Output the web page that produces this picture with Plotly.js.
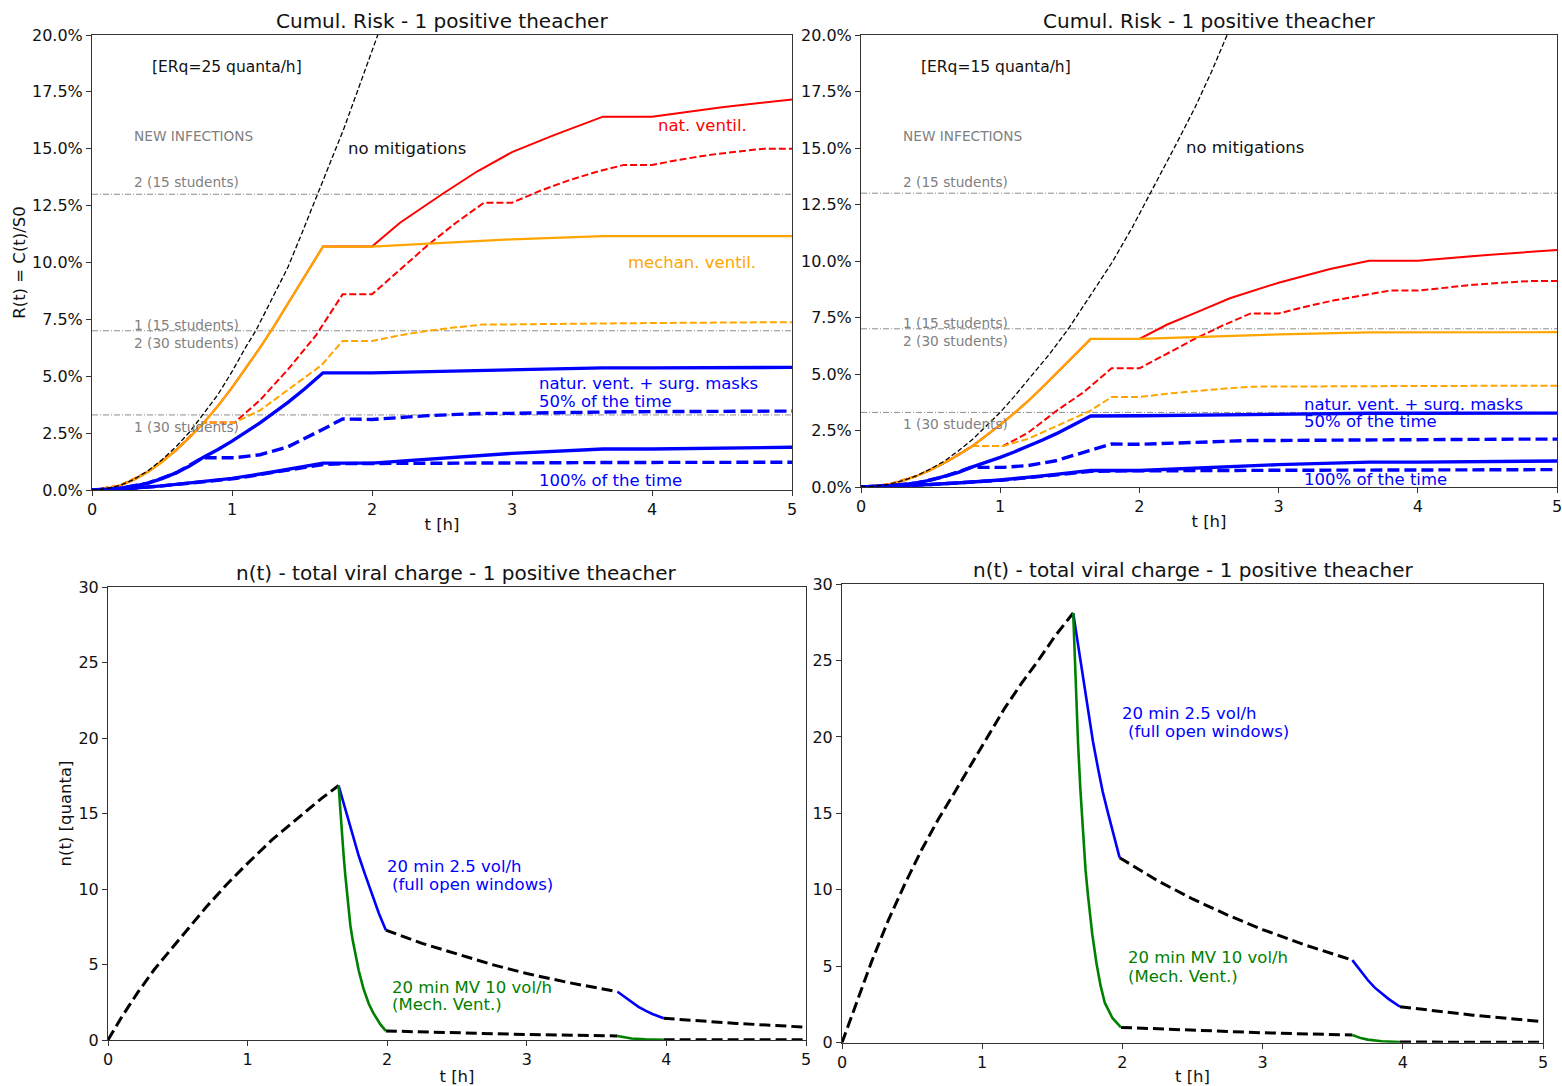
<!DOCTYPE html>
<html><head><meta charset="utf-8">
<script src="https://cdn.plot.ly/plotly-3.0.1.min.js"></script>
<style>html,body{margin:0;padding:0;background:#fff}#chart{width:1562px;height:1086px}</style>
</head><body><div id="chart"></div>
<script>
// ================= DATA =================
const hourTicks = [0, 1, 2, 3, 4, 5];
const riskTicks = [0, 2.5, 5, 7.5, 10, 12.5, 15, 17.5, 20];
const quantaTicks = [0, 5, 10, 15, 20, 25, 30];
const thresholdLevels = [13.0, 7.0, 3.3];   // NEW INFECTIONS levels (%)

// ---- top-left : ERq = 25 quanta/h, cumulative risk in % ----
const tl_noMit_t = [0, 0.1, 0.2, 0.3, 0.4, 0.5, 0.6, 0.7, 0.79, 0.9, 1.0, 1.1, 1.17, 1.3, 1.4, 1.5, 1.61, 1.7, 1.8, 1.9, 2.04, 2.1];
const tl_noMit_r = [0, 0.05, 0.2, 0.47, 0.85, 1.33, 1.9, 2.57, 3.3, 4.2, 5.2, 6.3, 7.0, 8.6, 9.8, 11.3, 13.0, 14.4, 15.9, 17.6, 20.0, 21.0];
const tl_mech_t = [0, 0.1, 0.2, 0.3, 0.4, 0.5, 0.6, 0.7, 0.8, 0.9, 1.0, 1.1, 1.2, 1.3, 1.4, 1.5, 1.65, 2.0, 2.5, 3.0, 3.65, 4.0, 5.0];
const tl_mech_r = [0, 0.05, 0.2, 0.45, 0.8, 1.23, 1.75, 2.33, 2.97, 3.7, 4.5, 5.35, 6.25, 7.2, 8.2, 9.2, 10.7, 10.7, 10.87, 11.02, 11.16, 11.16, 11.16];
const tl_nat_t = [0, 0.1, 0.2, 0.3, 0.4, 0.5, 0.6, 0.7, 0.8, 0.9, 1.0, 1.1, 1.2, 1.3, 1.4, 1.5, 1.65, 2.0, 2.2, 2.5, 2.75, 3.0, 3.3, 3.65, 4.0, 4.5, 5.0];
const tl_nat_r = [0, 0.05, 0.2, 0.45, 0.8, 1.23, 1.75, 2.33, 2.97, 3.7, 4.5, 5.35, 6.25, 7.2, 8.2, 9.2, 10.7, 10.7, 11.75, 13.0, 14.0, 14.85, 15.6, 16.41, 16.41, 16.82, 17.17];
const tl_natH_t = [0, 0.2, 0.4, 0.6, 0.8, 1.02, 1.2, 1.4, 1.6, 1.79, 2.0, 2.2, 2.4, 2.6, 2.8, 3.0, 3.2, 3.4, 3.6, 3.8, 4.0, 4.2, 4.4, 4.6, 4.8, 5.0];
const tl_natH_r = [0, 0.2, 0.8, 1.75, 2.97, 2.97, 3.95, 5.3, 6.8, 8.6, 8.6, 9.7, 10.77, 11.75, 12.63, 12.63, 13.15, 13.6, 13.98, 14.29, 14.29, 14.52, 14.72, 14.87, 15.0, 15.0];
const tl_mechH_t = [0, 0.2, 0.4, 0.6, 0.8, 1.02, 1.2, 1.4, 1.64, 1.79, 2.0, 2.2, 2.4, 2.6, 2.8, 3.0, 3.8, 4.0, 4.8, 5.0];
const tl_mechH_r = [0, 0.2, 0.8, 1.75, 2.97, 2.97, 3.5, 4.4, 5.49, 6.55, 6.55, 6.8, 7.0, 7.15, 7.28, 7.28, 7.34, 7.34, 7.37, 7.37];
const tl_mask50_t = [0, 0.1, 0.2, 0.3, 0.4, 0.5, 0.6, 0.7, 0.79, 0.9, 1.0, 1.1, 1.2, 1.3, 1.4, 1.52, 1.65, 2.0, 2.5, 3.0, 3.65, 4.0, 5.0];
const tl_mask50_r = [0, 0.02, 0.08, 0.17, 0.3, 0.5, 0.75, 1.07, 1.42, 1.78, 2.15, 2.53, 2.95, 3.4, 3.85, 4.45, 5.15, 5.15, 5.22, 5.28, 5.37, 5.37, 5.39];
const tl_mask50H_t = [0, 0.2, 0.4, 0.6, 0.79, 1.02, 1.2, 1.4, 1.64, 1.79, 2.0, 2.4, 2.8, 3.0, 3.8, 4.0, 4.8, 5.0];
const tl_mask50H_r = [0, 0.08, 0.3, 0.75, 1.42, 1.42, 1.55, 1.9, 2.64, 3.12, 3.1, 3.27, 3.37, 3.37, 3.44, 3.44, 3.47, 3.47];
const tl_mask100_t = [0, 0.25, 0.5, 0.75, 1.0, 1.3, 1.65, 2.0, 2.5, 3.0, 3.65, 4.0, 5.0];
const tl_mask100_r = [0, 0.06, 0.18, 0.33, 0.51, 0.8, 1.18, 1.18, 1.39, 1.61, 1.8, 1.8, 1.88];
const tl_mask100H_t = [0, 0.25, 0.5, 0.79, 1.02, 1.3, 1.65, 1.79, 2.0, 2.8, 3.0, 3.8, 4.0, 5.0];
const tl_mask100H_r = [0, 0.06, 0.18, 0.36, 0.5, 0.78, 1.12, 1.16, 1.16, 1.19, 1.19, 1.21, 1.21, 1.22];

// ---- top-right : ERq = 15 quanta/h ----
const tr_noMit_t = [0, 0.1, 0.2, 0.3, 0.4, 0.5, 0.6, 0.7, 0.8, 0.9, 1.0, 1.1, 1.2, 1.35, 1.49, 1.65, 1.8, 1.95, 2.08, 2.25, 2.4, 2.52, 2.63, 2.7];
const tr_noMit_r = [0, 0.03, 0.12, 0.28, 0.5, 0.8, 1.15, 1.6, 2.1, 2.68, 3.3, 4.0, 4.75, 5.85, 7.0, 8.5, 9.9, 11.5, 13.0, 15.0, 16.8, 18.4, 20.0, 21.0];
const tr_mech_t = [0, 0.1, 0.2, 0.3, 0.4, 0.5, 0.6, 0.7, 0.8, 0.9, 1.0, 1.1, 1.2, 1.3, 1.4, 1.5, 1.65, 2.0, 2.5, 3.0, 3.65, 4.0, 5.0];
const tr_mech_r = [0, 0.03, 0.12, 0.27, 0.49, 0.75, 1.07, 1.42, 1.81, 2.26, 2.75, 3.26, 3.8, 4.39, 5.0, 5.6, 6.55, 6.55, 6.66, 6.75, 6.84, 6.84, 6.85];
const tr_nat_t = [0, 0.1, 0.2, 0.3, 0.4, 0.5, 0.6, 0.7, 0.8, 0.9, 1.0, 1.1, 1.2, 1.3, 1.4, 1.5, 1.65, 2.0, 2.2, 2.41, 2.65, 3.0, 3.37, 3.65, 4.0, 4.5, 5.0];
const tr_nat_r = [0, 0.03, 0.12, 0.27, 0.49, 0.75, 1.07, 1.42, 1.81, 2.26, 2.75, 3.26, 3.8, 4.39, 5.0, 5.6, 6.55, 6.55, 7.19, 7.73, 8.35, 9.04, 9.65, 10.01, 10.01, 10.27, 10.49];
const tr_natH_t = [0, 0.2, 0.4, 0.6, 0.8, 1.02, 1.2, 1.4, 1.6, 1.8, 2.0, 2.2, 2.4, 2.6, 2.8, 3.0, 3.2, 3.4, 3.6, 3.8, 4.0, 4.2, 4.4, 4.6, 4.8, 5.0];
const tr_natH_r = [0, 0.12, 0.49, 1.07, 1.81, 1.81, 2.4, 3.35, 4.2, 5.25, 5.25, 5.91, 6.56, 7.15, 7.68, 7.68, 7.99, 8.26, 8.49, 8.69, 8.69, 8.83, 8.95, 9.04, 9.11, 9.11];
const tr_mechH_t = [0, 0.2, 0.4, 0.6, 0.8, 1.02, 1.2, 1.4, 1.64, 1.8, 2.0, 2.2, 2.4, 2.6, 2.8, 3.0, 3.8, 4.0, 4.8, 5.0];
const tr_mechH_r = [0, 0.12, 0.49, 1.07, 1.81, 1.81, 2.13, 2.68, 3.35, 3.98, 3.98, 4.13, 4.25, 4.35, 4.44, 4.44, 4.47, 4.47, 4.48, 4.48];
const tr_mask50_t = [0, 0.1, 0.2, 0.3, 0.4, 0.5, 0.6, 0.7, 0.79, 0.9, 1.0, 1.1, 1.2, 1.3, 1.4, 1.52, 1.65, 2.0, 2.5, 3.0, 3.65, 4.0, 5.0];
const tr_mask50_r = [0, 0.01, 0.05, 0.1, 0.18, 0.3, 0.46, 0.65, 0.87, 1.09, 1.31, 1.55, 1.8, 2.07, 2.35, 2.71, 3.14, 3.15, 3.19, 3.22, 3.26, 3.26, 3.27];
const tr_mask50H_t = [0, 0.2, 0.4, 0.6, 0.79, 1.02, 1.2, 1.4, 1.64, 1.8, 2.0, 2.4, 2.8, 3.0, 3.8, 4.0, 4.8, 5.0];
const tr_mask50H_r = [0, 0.05, 0.18, 0.46, 0.87, 0.87, 0.95, 1.16, 1.61, 1.9, 1.89, 1.99, 2.06, 2.06, 2.1, 2.1, 2.12, 2.12];
const tr_mask100_t = [0, 0.25, 0.5, 0.75, 1.0, 1.3, 1.65, 2.0, 2.5, 3.0, 3.65, 4.0, 5.0];
const tr_mask100_r = [0, 0.04, 0.11, 0.2, 0.31, 0.49, 0.73, 0.73, 0.86, 0.99, 1.1, 1.1, 1.15];
const tr_mask100H_t = [0, 0.25, 0.5, 0.79, 1.02, 1.3, 1.65, 1.79, 2.0, 2.8, 3.0, 3.8, 4.0, 5.0];
const tr_mask100H_r = [0, 0.04, 0.11, 0.22, 0.31, 0.47, 0.69, 0.71, 0.71, 0.74, 0.74, 0.75, 0.75, 0.77];

// ---- bottom-left : n(t) quanta ----
const bl_occ_t = [0, 0.1, 0.217, 0.33, 0.457, 0.58, 0.696, 0.85, 1.0, 1.174, 1.3, 1.413, 1.53, 1.652];
const bl_occ_n = [0, 1.55, 3.2, 4.65, 6.07, 7.45, 8.72, 10.3, 11.7, 13.25, 14.25, 15.1, 16.0, 16.85];
const bl_nvBreak1_t = [1.652, 1.69, 1.724, 1.76, 1.796, 1.84, 1.892, 1.94, 1.99];
const bl_nvBreak1_n = [16.85, 15.6, 14.4, 13.3, 12.2, 11.0, 9.6, 8.4, 7.28];
const bl_nvAfter1_t = [1.99, 2.25, 2.5, 2.75, 3.0, 3.3, 3.65];
const bl_nvAfter1_n = [7.28, 6.4, 5.7, 5.0, 4.4, 3.8, 3.2];
const bl_nvBreak2_t = [3.65, 3.7, 3.75, 3.8, 3.85, 3.9, 3.98];
const bl_nvBreak2_n = [3.2, 2.85, 2.5, 2.2, 1.95, 1.72, 1.44];
const bl_nvAfter2_t = [3.98, 4.5, 5.0];
const bl_nvAfter2_n = [1.44, 1.1, 0.85];
const bl_mvBreak1_t = [1.652, 1.665, 1.675, 1.688, 1.70, 1.718, 1.736, 1.753, 1.77, 1.796, 1.83, 1.868, 1.9, 1.92, 1.95, 1.99];
const bl_mvBreak1_n = [16.85, 15.0, 13.6, 12.2, 10.9, 9.2, 7.6, 6.6, 5.7, 4.6, 3.4, 2.4, 1.8, 1.5, 1.05, 0.6];
const bl_mvAfter1_t = [1.99, 2.5, 3.0, 3.65];
const bl_mvAfter1_n = [0.6, 0.46, 0.36, 0.27];
const bl_mvBreak2_t = [3.65, 3.7, 3.75, 3.85, 3.98];
const bl_mvBreak2_n = [0.27, 0.16, 0.1, 0.04, 0.02];
const bl_mvAfter2_t = [3.98, 5.0];
const bl_mvAfter2_n = [0.02, 0.02];

// ---- bottom-right : n(t) quanta ----
const br_occ_t = [0, 0.06, 0.116, 0.211, 0.33, 0.449, 0.567, 0.686, 0.805, 1.0, 1.162, 1.28, 1.4, 1.52, 1.649];
const br_occ_n = [0, 1.5, 2.8, 5.3, 8.0, 10.4, 12.6, 14.6, 16.4, 19.4, 21.9, 23.5, 25.0, 26.6, 28.1];
const br_nvBreak1_t = [1.649, 1.684, 1.72, 1.756, 1.79, 1.827, 1.86, 1.898, 1.94, 1.98];
const br_nvBreak1_n = [28.1, 26.0, 23.8, 21.6, 19.7, 17.9, 16.4, 15.0, 13.5, 12.1];
const br_nvAfter1_t = [1.98, 2.25, 2.5, 2.75, 3.0, 3.3, 3.64];
const br_nvAfter1_n = [12.1, 10.6, 9.4, 8.35, 7.4, 6.4, 5.4];
const br_nvBreak2_t = [3.64, 3.7, 3.75, 3.8, 3.85, 3.9, 3.98];
const br_nvBreak2_n = [5.4, 4.7, 4.1, 3.6, 3.2, 2.85, 2.35];
const br_nvAfter2_t = [3.98, 4.5, 5.0];
const br_nvAfter2_n = [2.35, 1.8, 1.37];
const br_mvBreak1_t = [1.649, 1.657, 1.665, 1.675, 1.684, 1.70, 1.72, 1.737, 1.756, 1.785, 1.815, 1.845, 1.875, 1.93, 1.99];
const br_mvBreak1_n = [28.1, 26.0, 24.0, 21.6, 19.5, 16.6, 13.5, 11.3, 9.5, 7.1, 5.2, 3.7, 2.6, 1.6, 1.0];
const br_mvAfter1_t = [1.99, 2.5, 3.0, 3.64];
const br_mvAfter1_n = [1.0, 0.8, 0.65, 0.5];
const br_mvBreak2_t = [3.64, 3.7, 3.75, 3.85, 3.98];
const br_mvBreak2_n = [0.5, 0.3, 0.2, 0.09, 0.04];
const br_mvAfter2_t = [3.98, 5.0];
const br_mvAfter2_n = [0.04, 0.03];

// ================= STYLE / LAYOUT =================
const W = 1562, H = 1086;
const FONT = 'DejaVu Sans';
const RED = '#ff0000', ORANGE = '#ffa500', BLUE = '#0000ff', GREEN = '#008000', GRAY = '#808080';
const px2x = p => p / W;
const px2y = p => 1 - p / H;

function line(xa, ya, x, y, color, width, dash) {
  return {type: 'scatter', mode: 'lines', xaxis: xa, yaxis: ya, x: x, y: y,
          line: {color: color, width: width, dash: dash || 'solid'},
          hoverinfo: 'skip', showlegend: false, connectgaps: false};
}
function joinSegs(segs) { // concatenate [t,v] segments with gaps
  const X = [], Y = [];
  segs.forEach((s, i) => { if (i) { X.push(null); Y.push(null); }
    X.push(...s[0]); Y.push(...s[1]); });
  return [X, Y];
}
function thresholds(xa, ya) {
  return thresholdLevels.map(v => line(xa, ya, [0, 5], [v, v], GRAY, 0.9, '6px,2px,1px,2px'));
}

const traces = [];
function riskPanel(xa, ya, d) {
  traces.push(...thresholds(xa, ya));
  traces.push(line(xa, ya, d.natH[0], d.natH[1], RED, 2, '7px,3px'));
  traces.push(line(xa, ya, d.mechH[0], d.mechH[1], ORANGE, 2, '7px,3px'));
  traces.push(line(xa, ya, d.nat[0], d.nat[1], RED, 2));
  traces.push(line(xa, ya, d.mech[0], d.mech[1], ORANGE, 2.2));
  traces.push(line(xa, ya, d.m50[0], d.m50[1], BLUE, 3.4));
  traces.push(line(xa, ya, d.m50H[0], d.m50H[1], BLUE, 3.4, '12px,5px'));
  traces.push(line(xa, ya, d.m100[0], d.m100[1], BLUE, 3.4));
  traces.push(line(xa, ya, d.m100H[0], d.m100H[1], BLUE, 3.4, '12px,5px'));
  traces.push(line(xa, ya, d.noMit[0], d.noMit[1], 'black', 1.3, '5px,2.5px'));
}
riskPanel('x', 'y', {
  noMit: [tl_noMit_t, tl_noMit_r], mech: [tl_mech_t, tl_mech_r], nat: [tl_nat_t, tl_nat_r],
  natH: [tl_natH_t, tl_natH_r], mechH: [tl_mechH_t, tl_mechH_r],
  m50: [tl_mask50_t, tl_mask50_r], m50H: [tl_mask50H_t, tl_mask50H_r],
  m100: [tl_mask100_t, tl_mask100_r], m100H: [tl_mask100H_t, tl_mask100H_r]});
riskPanel('x2', 'y2', {
  noMit: [tr_noMit_t, tr_noMit_r], mech: [tr_mech_t, tr_mech_r], nat: [tr_nat_t, tr_nat_r],
  natH: [tr_natH_t, tr_natH_r], mechH: [tr_mechH_t, tr_mechH_r],
  m50: [tr_mask50_t, tr_mask50_r], m50H: [tr_mask50H_t, tr_mask50H_r],
  m100: [tr_mask100_t, tr_mask100_r], m100H: [tr_mask100H_t, tr_mask100H_r]});

function quantaPanel(xa, ya, d) {
  const blk = joinSegs([d.occ, d.nvA1, d.nvA2, d.mvA1, d.mvA2]);
  traces.push(line(xa, ya, blk[0], blk[1], 'black', 3, '11px,5px'));
  traces.push(line(xa, ya, d.nvB1[0], d.nvB1[1], BLUE, 2.6));
  traces.push(line(xa, ya, d.nvB2[0], d.nvB2[1], BLUE, 2.6));
  traces.push(line(xa, ya, d.mvB1[0], d.mvB1[1], GREEN, 2.6));
  traces.push(line(xa, ya, d.mvB2[0], d.mvB2[1], GREEN, 2.6));
}
quantaPanel('x3', 'y3', {
  occ: [bl_occ_t, bl_occ_n], nvB1: [bl_nvBreak1_t, bl_nvBreak1_n], nvA1: [bl_nvAfter1_t, bl_nvAfter1_n],
  nvB2: [bl_nvBreak2_t, bl_nvBreak2_n], nvA2: [bl_nvAfter2_t, bl_nvAfter2_n],
  mvB1: [bl_mvBreak1_t, bl_mvBreak1_n], mvA1: [bl_mvAfter1_t, bl_mvAfter1_n],
  mvB2: [bl_mvBreak2_t, bl_mvBreak2_n], mvA2: [bl_mvAfter2_t, bl_mvAfter2_n]});
quantaPanel('x4', 'y4', {
  occ: [br_occ_t, br_occ_n], nvB1: [br_nvBreak1_t, br_nvBreak1_n], nvA1: [br_nvAfter1_t, br_nvAfter1_n],
  nvB2: [br_nvBreak2_t, br_nvBreak2_n], nvA2: [br_nvAfter2_t, br_nvAfter2_n],
  mvB1: [br_mvBreak1_t, br_mvBreak1_n], mvA1: [br_mvAfter1_t, br_mvAfter1_n],
  mvB2: [br_mvBreak2_t, br_mvBreak2_n], mvA2: [br_mvAfter2_t, br_mvAfter2_n]});

// ---- axes ----
const AXC = '#333';
function baseAxis(extra) {
  return Object.assign({showgrid: false, zeroline: false, showline: true, mirror: true,
    linecolor: AXC, linewidth: 1, ticks: 'outside', ticklen: 5, tickwidth: 1, tickcolor: AXC,
    ticklabeloverflow: 'allow',
    tickfont: {family: FONT, size: 16, color: '#111'}, automargin: false, fixedrange: true}, extra);
}
function xAx(domPx, anchor, standoff) {
  return baseAxis({domain: [px2x(domPx[0]), px2x(domPx[1])], anchor: anchor, range: [0, 5],
    tickvals: hourTicks, ticktext: hourTicks.map(String),
    title: {text: 't [h]', font: {family: FONT, size: 16.5, color: '#111'}, standoff: standoff}});
}
function yRisk(domPx, anchor, title) {
  return baseAxis({domain: [px2y(domPx[1]), px2y(domPx[0])], anchor: anchor, range: [0, 20],
    tickvals: riskTicks, ticktext: riskTicks.map(v => v.toFixed(1) + '%'),
    title: {text: title, font: {family: FONT, size: 16.5, color: '#111'}, standoff: 2}});
}
function yQuanta(domPx, anchor, title) {
  return baseAxis({domain: [px2y(domPx[1]), px2y(domPx[0])], anchor: anchor, range: [0, 30],
    tickvals: quantaTicks, ticktext: quantaTicks.map(String),
    title: {text: title, font: {family: FONT, size: 16.5, color: '#111'}, standoff: 2}});
}

// ---- text annotations ----
const ann = [];
function txt(xa, ya, x, y, text, color, size) {
  ann.push({xref: xa, yref: ya, x: x, y: y, text: text, showarrow: false,
    xanchor: 'left', yanchor: 'middle', borderpad: 0, borderwidth: 0,
    font: {family: FONT, size: size, color: color}});
}
function ptitle(cx, cy, text) {
  ann.push({xref: 'paper', yref: 'paper', x: px2x(cx), y: px2y(cy), text: text, showarrow: false,
    xanchor: 'center', yanchor: 'middle', font: {family: FONT, size: 20, color: '#111'}});
}
ptitle(442, 21, 'Cumul. Risk - 1 positive theacher');
ptitle(1209, 21, 'Cumul. Risk - 1 positive theacher');
ptitle(457, 573, 'n(t) - total viral charge - 1 positive theacher');
ptitle(1193, 570, 'n(t) - total viral charge - 1 positive theacher');

// top-left
txt('x', 'y', 0.43, 18.59, '[ERq=25 quanta/h]', '#111', 15.5);
txt('x', 'y', 0.3, 15.56, 'NEW INFECTIONS', GRAY, 13.7);
txt('x', 'y', 1.83, 15.03, 'no mitigations', '#111', 16.5);
txt('x', 'y', 0.3, 13.54, '2 (15 students)', GRAY, 13.7);
txt('x', 'y', 0.3, 7.25, '1 (15 students)', GRAY, 13.7);
txt('x', 'y', 0.3, 6.46, '2 (30 students)', GRAY, 13.7);
txt('x', 'y', 0.3, 2.77, '1 (30 students)', GRAY, 13.7);
txt('x', 'y', 4.04, 16.0, 'nat. ventil.', RED, 16.5);
txt('x', 'y', 3.83, 9.98, 'mechan. ventil.', ORANGE, 16.5);
txt('x', 'y', 3.19, 4.66, 'natur. vent. + surg. masks', BLUE, 16.5);
txt('x', 'y', 3.19, 3.87, '50% of the time', BLUE, 16.5);
txt('x', 'y', 3.19, 0.40, '100% of the time', BLUE, 16.5);
// top-right
txt('x2', 'y2', 0.43, 18.58, '[ERq=15 quanta/h]', '#111', 15.5);
txt('x2', 'y2', 0.3, 15.53, 'NEW INFECTIONS', GRAY, 13.7);
txt('x2', 'y2', 2.335, 15.0, 'no mitigations', '#111', 16.5);
txt('x2', 'y2', 0.3, 13.5, '2 (15 students)', GRAY, 13.7);
txt('x2', 'y2', 0.3, 7.26, '1 (15 students)', GRAY, 13.7);
txt('x2', 'y2', 0.3, 6.46, '2 (30 students)', GRAY, 13.7);
txt('x2', 'y2', 0.3, 2.79, '1 (30 students)', GRAY, 13.7);
txt('x2', 'y2', 3.18, 3.67, 'natur. vent. + surg. masks', BLUE, 16.5);
txt('x2', 'y2', 3.18, 2.88, '50% of the time', BLUE, 16.5);
txt('x2', 'y2', 3.18, 0.35, '100% of the time', BLUE, 16.5);
// bottom-left
txt('x3', 'y3', 2.0, 11.52, '20 min 2.5 vol/h', BLUE, 16.5);
txt('x3', 'y3', 2.035, 10.33, '(full open windows)', BLUE, 16.5);
txt('x3', 'y3', 2.035, 3.51, '20 min MV 10 vol/h', GREEN, 16.5);
txt('x3', 'y3', 2.035, 2.32, '(Mech. Vent.)', GREEN, 16.5);
// bottom-right
txt('x4', 'y4', 2.0, 21.5, '20 min 2.5 vol/h', BLUE, 16.5);
txt('x4', 'y4', 2.04, 20.33, '(full open windows)', BLUE, 16.5);
txt('x4', 'y4', 2.04, 5.59, '20 min MV 10 vol/h', GREEN, 16.5);
txt('x4', 'y4', 2.04, 4.35, '(Mech. Vent.)', GREEN, 16.5);

const layout = {
  width: W, height: H, margin: {l: 0, r: 0, t: 0, b: 0},
  paper_bgcolor: '#fff', plot_bgcolor: '#fff', showlegend: false,
  font: {family: FONT, color: '#111'},
  xaxis: xAx([92, 792], 'y', 0),
  yaxis: yRisk([35, 490], 'x', 'R(t) = C(t)/S0'),
  xaxis2: xAx([861, 1557], 'y2', 0),
  yaxis2: yRisk([35, 487], 'x2', ''),
  xaxis3: xAx([108, 806], 'y3', 6),
  yaxis3: yQuanta([587, 1040], 'x3', 'n(t) [quanta]'),
  xaxis4: xAx([842, 1543], 'y4', 6),
  yaxis4: yQuanta([584, 1042.7], 'x4', ''),
  annotations: ann
};

Plotly.newPlot('chart', traces, layout, {displayModeBar: false, staticPlot: true});
</script>
</body></html>
